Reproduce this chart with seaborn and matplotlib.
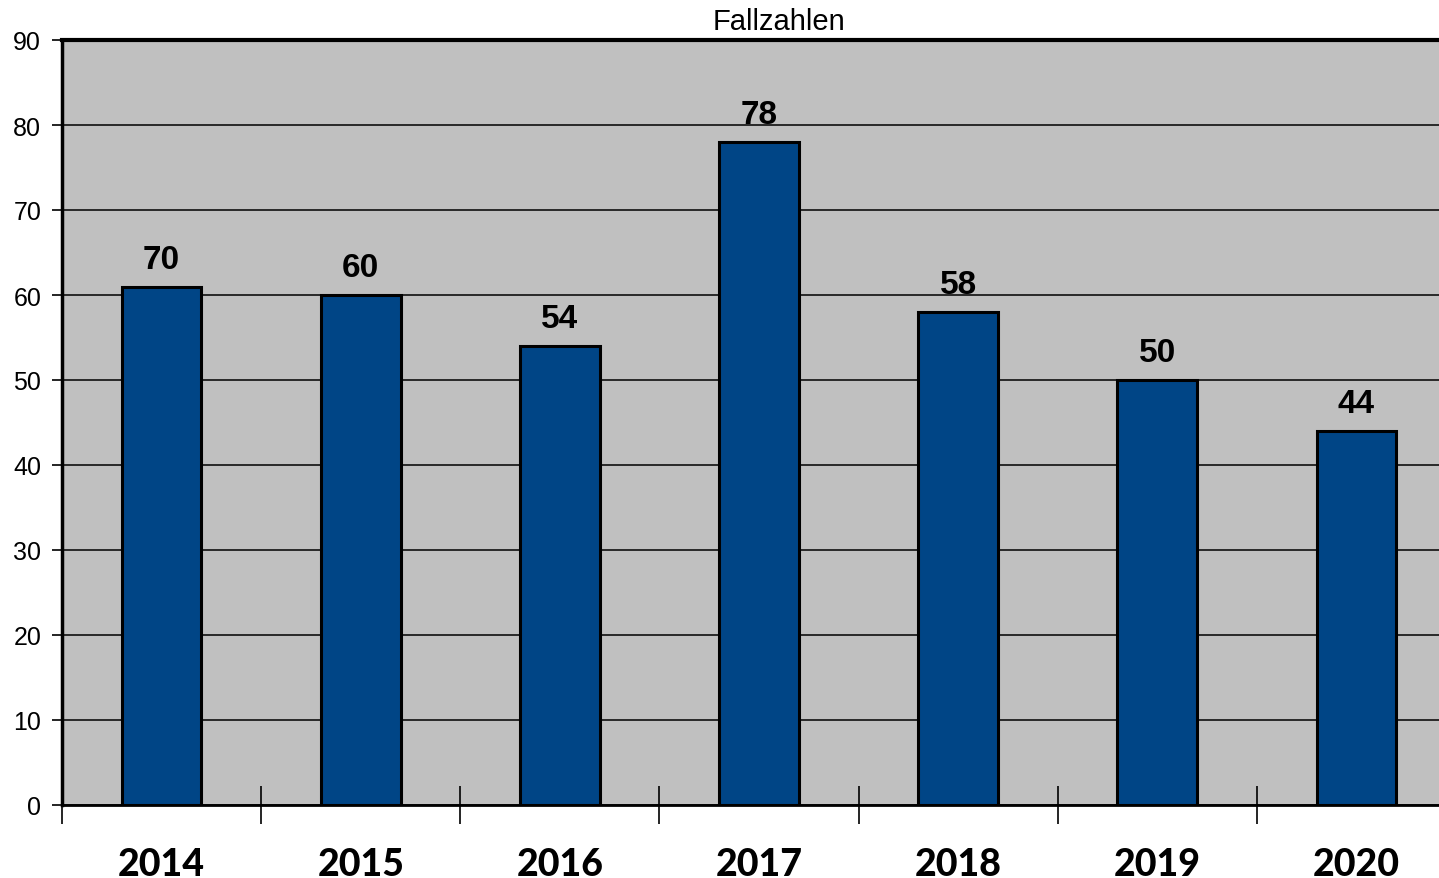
import matplotlib
matplotlib.use("Agg")
import matplotlib.pyplot as plt
import seaborn as sns
import pandas as pd
import numpy as np

# data (bar heights and the printed labels differ for 2014)
years = ["2014", "2015", "2016", "2017", "2018", "2019", "2020"]
bar_heights = [61, 60, 54, 78, 58, 50, 44]
value_labels = ["70", "60", "54", "78", "58", "50", "44"]
y_ticks = [0, 10, 20, 30, 40, 50, 60, 70, 80, 90]

df = pd.DataFrame({"Jahr": years, "Fallzahl": bar_heights})

sns.set_theme(style="white")
plt.rcParams["font.family"] = ["Liberation Sans", "DejaVu Sans"]
plt.rcParams["text.color"] = "black"

fig = plt.figure(figsize=(14.39, 8.79), dpi=100)
# axes runs past the right edge of the image, as in the original export
ax = fig.add_axes([62 / 1439, 1 - 806 / 879, 1394 / 1439, 765 / 879])
ax.set_facecolor("#c0c0c0")

sns.barplot(data=df, x="Jahr", y="Fallzahl", ax=ax, color="#004586",
            saturation=1, width=0.4, edgecolor="black", linewidth=2.2, zorder=3)

ax.set_xlim(-0.5, len(years) - 0.5)
ax.set_ylim(0, 90)
ax.set_yticks(y_ticks)
ax.yaxis.grid(True, color="black", linewidth=1.1, zorder=1)
ax.set_axisbelow(True)
ax.set_xlabel("")
ax.set_ylabel("")

# value labels above bars
for i, (h, lab) in enumerate(zip(bar_heights, value_labels)):
    ax.text(i, h + 2.2, lab, ha="center", va="baseline", fontsize=24,
            fontweight="bold", color="black", zorder=4)

# tick styling
ax.tick_params(axis="y", which="major", direction="out", length=7, width=1.2,
               color="black", labelcolor="black", labelsize=18, pad=8, left=True)
ax.tick_params(axis="x", which="major", length=0, labelsize=27, pad=30,
               labelcolor="black")
ax.set_xticks(range(len(years)))
ax.set_xticklabels(years, fontweight="black", family=["Lato", "DejaVu Sans"])
ax.set_xticks(np.arange(-0.5, len(years), 1.0), minor=True)
ax.tick_params(axis="x", which="minor", direction="inout", length=28,
               width=1.2, color="black", bottom=True)

for side in ["left", "top", "bottom", "right"]:
    ax.spines[side].set_color("black")
ax.spines["left"].set_linewidth(2.5)
ax.spines["top"].set_linewidth(3)
ax.spines["bottom"].set_linewidth(2)
ax.spines["right"].set_linewidth(2)

fig.text(779 / 1439, 1 - 30 / 879, "Fallzahlen", ha="center", va="baseline",
         fontsize=21, color="black")

fig.savefig("out.png", dpi=100)
plt.close(fig)
